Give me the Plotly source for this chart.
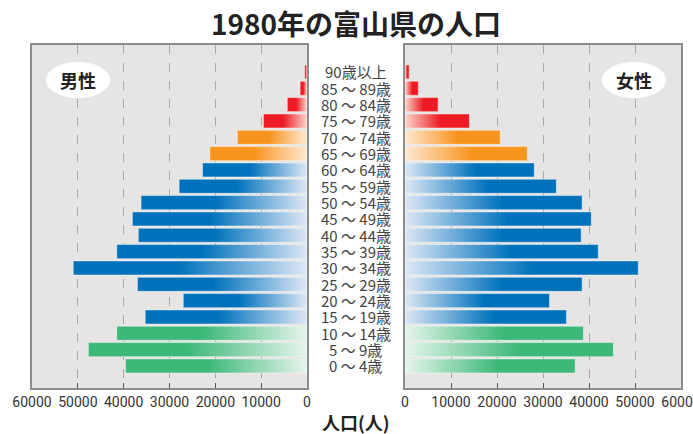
import plotly.graph_objects as go

# Age groups, youngest first (bottom of the pyramid)
age_groups = ["0 ～ 4歳", "5 ～ 9歳", "10 ～ 14歳", "15 ～ 19歳", "20 ～ 24歳",
              "25 ～ 29歳", "30 ～ 34歳", "35 ～ 39歳", "40 ～ 44歳", "45 ～ 49歳",
              "50 ～ 54歳", "55 ～ 59歳", "60 ～ 64歳", "65 ～ 69歳", "70 ～ 74歳",
              "75 ～ 79歳", "80 ～ 84歳", "85 ～ 89歳", "90歳以上"]
male = [39600, 47700, 41500, 35300, 27000, 37000, 51000, 41500, 36800, 38100,
        36200, 27900, 22800, 21200, 15200, 9500, 4300, 1500, 500]
female = [37000, 45300, 38800, 35100, 31400, 38500, 50700, 42000, 38300, 40500,
          38500, 32900, 28100, 26600, 20700, 14000, 7200, 2900, 900]
# colour band of each age group
bands = ["young"] * 3 + ["working"] * 10 + ["senior"] * 2 + ["elder"] * 4

tick_vals = [0, 10000, 20000, 30000, 40000, 50000, 60000]

palette = {
    "young":   ("#e6f5eb", "#3cb878"),
    "working": ("#dde7f5", "#0072bc"),
    "senior":  ("#fee9d2", "#f7941d"),
    "elder":   ("#fbd6cb", "#ed1c24"),
}

W, H = 693, 434
FONT = "Noto Sans CJK JP, Noto Sans, sans-serif"
NUM_FONT = "Roboto, Noto Sans, sans-serif"
BG = "#e6e5e4"
BORDER = "#8c8c8c"

fig = go.Figure()
half = 0.43


def add_bar(value, idx, band, xa, ya, outer_left):
    light, dark = palette[band]
    # gradient runs left-to-right on screen; keep the saturated end outside
    if outer_left:
        scale = [[0, dark], [0.45, dark], [1, light]]
    else:
        scale = [[0, light], [0.55, dark], [1, dark]]
    fig.add_trace(go.Scatter(
        x=[0, value, value, 0, 0],
        y=[idx - half, idx - half, idx + half, idx + half, idx - half],
        mode="lines", fill="toself",
        line=dict(color="rgba(255,255,255,0.55)", width=0.8),
        fillgradient=dict(type="horizontal", colorscale=scale),
        xaxis=xa, yaxis=ya, showlegend=False, hoverinfo="skip",
    ))


for i, (m, f, b) in enumerate(zip(male, female, bands)):
    add_bar(m, i, b, "x", "y", True)
    add_bar(f, i, b, "x2", "y2", False)

ydom = [46 / H, 389 / H]
yrange = [-1.35, len(age_groups) - 1 + 1.65]

axis_common = dict(
    tickvals=tick_vals, ticktext=[str(v) for v in tick_vals],
    tickangle=0, automargin=False, ticklabeloverflow="allow",
    showgrid=True, griddash="dash", gridcolor="#a9a9a9", gridwidth=1,
    ticks="inside", ticklen=5, tickcolor="#555555", tickwidth=1,
    showline=True, mirror=True, linecolor=BORDER, linewidth=1.5,
    zeroline=False, fixedrange=True,
    tickfont=dict(family=NUM_FONT, size=14, color="#333333"),
)
yaxis_common = dict(
    domain=ydom, range=yrange, showticklabels=False, showgrid=False,
    zeroline=False, showline=True, mirror=True, linecolor=BORDER,
    linewidth=1.5, ticks="", fixedrange=True, automargin=False,
)

fig.update_layout(
    width=W, height=H,
    margin=dict(l=0, r=0, t=0, b=0),
    paper_bgcolor="white", plot_bgcolor=BG,
    xaxis=dict(domain=[32 / W, 307 / W], range=[60000, 0], anchor="y", **axis_common),
    xaxis2=dict(domain=[405 / W, 681 / W], range=[0, 60000], anchor="y2", **axis_common),
    yaxis=dict(anchor="x", **yaxis_common),
    yaxis2=dict(anchor="x2", **yaxis_common),
)

# "男性" / "女性" badges
for cx, txt in [(78, "男性"), (634, "女性")]:
    fig.add_shape(type="circle", xref="paper", yref="paper",
                  x0=(cx - 32) / W, x1=(cx + 32) / W,
                  y0=(H - 98) / H, y1=(H - 62) / H,
                  fillcolor="white", line=dict(width=0), layer="above")
    fig.add_annotation(x=cx / W, y=(H - 80) / H, xref="paper", yref="paper",
                       text=f"<b>{txt}</b>", showarrow=False,
                       xanchor="center", yanchor="middle",
                       font=dict(family=FONT, size=18, color="#222222"))

# age labels down the middle
for i, lab in enumerate(age_groups):
    fig.add_annotation(x=355.5 / W, y=i, xref="paper", yref="y", text=lab,
                       showarrow=False, xanchor="center", yanchor="middle",
                       font=dict(family=FONT, size=15, color="#444444"))

fig.add_annotation(x=356 / W, y=(H - 23) / H, xref="paper", yref="paper",
                   text="<b>1980年の富山県の人口</b>", showarrow=False,
                   xanchor="center", yanchor="middle",
                   font=dict(family=FONT, size=28, color="#222222"))
fig.add_annotation(x=356 / W, y=(H - 422) / H, xref="paper", yref="paper",
                   text="<b>人口(人)</b>", showarrow=False,
                   xanchor="center", yanchor="middle",
                   font=dict(family=FONT, size=18, color="#222222"))

fig.write_html("out.html")
